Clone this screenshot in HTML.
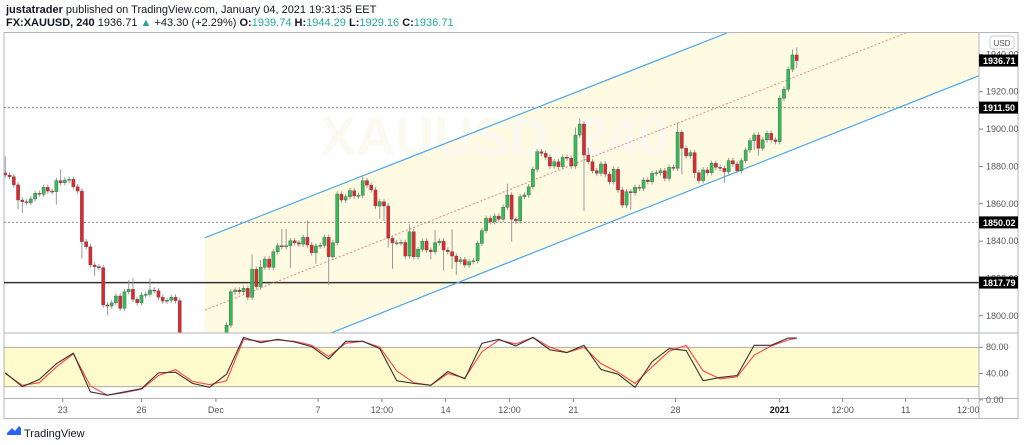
<!DOCTYPE html>
<html><head><meta charset="utf-8"><style>
body{margin:0;width:1024px;height:445px;background:#fff;overflow:hidden;font-family:"Liberation Sans",sans-serif}
svg{display:block}
</style></head><body>
<svg id="c" width="1024" height="445" viewBox="0 0 1024 445">
<defs>
<clipPath id="pc"><rect x="4" y="33" width="975" height="300"/></clipPath>
<clipPath id="sc"><rect x="4" y="334" width="975" height="64"/></clipPath>
</defs>
<text x="6" y="13" font-size="11" fill="#131722"><tspan font-weight="bold">justatrader</tspan> published on TradingView.com, January 04, 2021 19:31:35 EET</text>
<text x="6" y="26" font-size="11" fill="#131722"><tspan font-weight="bold">FX:XAUUSD, 240</tspan> 1936.71 <tspan fill="#26a69a">▲</tspan> +43.30 (+2.29%) <tspan font-weight="bold">O:</tspan><tspan fill="#26a69a">1939.74</tspan> <tspan font-weight="bold">H:</tspan><tspan fill="#26a69a">1944.29</tspan> <tspan font-weight="bold">L:</tspan><tspan fill="#26a69a">1929.16</tspan> <tspan font-weight="bold">C:</tspan><tspan fill="#26a69a">1936.71</tspan></text>
<rect x="4" y="32.5" width="1014" height="386" fill="none" stroke="#b2b5be"/>
<g clip-path="url(#pc)" id="pricePane">
<polygon points="205,237.7 727,33 979,33 979,75.7 331.7,332.7 205,332.7" fill="#fffbe3"/>
<text x="320" y="155" font-size="54" fill="#fbf9f0" font-weight="bold">XAUUSD, 240</text>
<line x1="4" x2="979" y1="107.6" y2="107.6" stroke="#888" stroke-dasharray="2,2"/>
<line x1="4" x2="979" y1="222.4" y2="222.4" stroke="#888" stroke-dasharray="2,2"/>
<line x1="4" x2="979" y1="282.6" y2="282.6" stroke="#333" stroke-width="1.5"/>
<line x1="205" y1="237.7" x2="727" y2="33" stroke="#4aa8e8" stroke-width="1.2"/>
<line x1="331.7" y1="332.7" x2="979" y2="75.7" stroke="#4aa8e8" stroke-width="1.2"/>
<line x1="205" y1="310" x2="979" y2="4" stroke="#f08080" stroke-dasharray="2,2"/>
<g id="candles"></g>
</g>
<line x1="4" x2="1018" y1="333" y2="333" stroke="#b2b5be"/>
<g clip-path="url(#sc)">
<rect x="4" y="347.3" width="975" height="39.4" fill="#fffbcc" stroke="#999" stroke-width="0.8"/>
<polyline id="dLine" fill="none" stroke="#f44" stroke-width="1.1"/>
<polyline id="kLine" fill="none" stroke="#333" stroke-width="1.1"/>
</g>
<line x1="4" x2="1018" y1="398.5" y2="398.5" stroke="#b2b5be"/>
<line x1="979" x2="979" y1="33" y2="418" stroke="#b2b5be"/>
<g id="axes" font-size="9" fill="#555"></g>
<rect x="990" y="36" width="24" height="13" rx="3" fill="#fff" stroke="#ccc"/>
<text x="1002" y="46" font-size="8" fill="#555" text-anchor="middle">USD</text>
<g id="tags"></g>
<g>
<path d="M7 433 l5 -5 l3 3 l4 -5 l2 2 v7 h-14z" fill="#2962ff"/>
<text x="24" y="437" font-size="11" fill="#131722">TradingView</text>
</g>
</svg>
<script>
const closes=[1875.4,1874.5,1870.1,1862.0,1861.1,1860.6,1862.6,1865.6,1865.1,1868.8,
1866.8,1866.5,1872.4,1871.3,1872.7,1873.1,1869.1,1866.8,1839.7,1837.0,
1827.2,1826.3,1825.8,1805.8,1805.2,1807.0,1810.6,1804.0,1812.9,1814.2,
1808.8,1807.0,1811.1,1811.5,1813.8,1813.4,1809.9,1807.9,1808.3,1809.9,
1808.1,1782,1780,1778,1776,1779,1777,1775,1778,1781,
1780,1783,1795,1812.9,1813.8,1812.9,1814.7,1809.9,1824.9,1815.6,
1826.0,1830.4,1826.0,1834.3,1837.5,1837.0,1837.5,1840.2,1839.1,1838.4,
1842.0,1837.9,1833.8,1837.4,1837.7,1842.0,1831.6,1839.1,1865.2,1862.0,
1863.8,1867.0,1864.2,1864.5,1872.4,1870.0,1867.4,1858.8,1861.1,1858.8,
1841.5,1839.1,1839.1,1839.3,1832.0,1845.0,1831.6,1835.6,1840.0,1835.2,
1834.3,1839.1,1840.0,1835.2,1834.3,1832.0,1829.0,1830.0,1827.2,1829.0,
1829.5,1838.8,1845.6,1852.2,1850.4,1853.4,1851.7,1858.1,1864.7,1851.7,
1850.8,1863.8,1864.7,1869.1,1878.5,1887.9,1887.0,1884.9,1880.2,1882.5,
1879.9,1884.9,1884.4,1880.2,1896.8,1902.7,1886.1,1882.5,1877.7,1876.3,
1881.3,1875.9,1871.8,1878.5,1867.4,1859.3,1866.5,1865.9,1868.8,1868.3,
1872.7,1871.8,1876.3,1876.6,1877.7,1873.6,1879.5,1879.0,1898.3,1889.7,
1885.6,1887.4,1876.6,1872.4,1878.1,1876.6,1881.7,1879.5,1879.0,1877.2,
1883.1,1881.3,1877.7,1883.1,1888.8,1893.8,1896.8,1889.7,1894.2,1897.7,
1894.2,1893.3,1916.5,1921.3,1932.0,1939.7,1936.71];
const firstOpen=1876.5;
const hiExt=[9,1.5,1.5,1.5,1.5,1.5,1.5,1.5,1.5,1.5,
1.5,1.5,1.5,6,1.5,1.5,1.5,1.5,1.5,1.5,
1.5,1.5,1.5,1.5,1.5,1.5,1.5,1.5,1.5,5,
6,1.5,1.5,1.5,6,1.5,1.5,1.5,1.5,1.5,
1.5,1.5,1.5,1.5,1.5,1.5,1.5,1.5,1.5,1.5,
1.5,1.5,1.5,1.5,1.5,1.5,1.5,1.5,8,1.5,
4,1.5,1.5,1.5,1.5,9,9,1.5,1.5,1.5,
1.5,9,1.5,1.5,1.5,1.5,1.5,1.5,1.5,1.5,
1.5,1.5,1.5,1.5,3,1.5,1.5,1.5,1.5,1.5,
1.5,1.5,1.5,1.5,1.5,4,1.5,1.5,1.5,1.5,
1.5,7,1.5,1.5,1.5,12,1.5,1.5,1.5,1.5,
1.5,1.5,1.5,1.5,1.5,1.5,1.5,1.5,6,1.5,
1.5,1.5,1.5,1.5,1.5,1.5,1.5,1.5,1.5,1.5,
1.5,1.5,1.5,1.5,4,3,1.5,4,1.5,1.5,
1.5,1.5,1.5,1.5,1.5,1.5,1.5,1.5,1.5,1.5,
1.5,1.5,1.5,1.5,1.5,1.5,1.5,1.5,5,1.5,
1.5,1.5,1.5,1.5,1.5,1.5,1.5,1.5,1.5,1.5,
1.5,1.5,1.5,1.5,1.5,1.5,1.5,1.5,1.5,1.5,
1.5,1.5,1.5,1.5,1.5,3,4];
const loExt=[1.5,1.5,1.5,5,6,1.5,1.5,1.5,1.5,1.5,
1.5,1.5,7,1.5,1.5,1.5,1.5,1.5,9,1.5,
1.5,5,1.5,1.5,5,1.5,1.5,1.5,1.5,1.5,
1.5,1.5,1.5,1.5,1.5,1.5,1.5,1.5,1.5,1.5,
1.5,1.5,1.5,1.5,1.5,1.5,1.5,1.5,1.5,1.5,
1.5,1.5,1.5,1.5,1.5,1.5,1.5,1.5,1.5,1.5,
1.5,1.5,1.5,1.5,1.5,1.5,1.5,12,1.5,1.5,
1.5,1.5,1.5,6,1.5,1.5,15,1.5,1.5,1.5,
1.5,1.5,1.5,1.5,1.5,1.5,1.5,1.5,7,8,
5,14,1.5,1.5,1.5,1.5,1.5,1.5,1.5,1.5,
4,1.5,1.5,11,1.5,7,7,1.5,1.5,1.5,
1.5,1.5,1.5,1.5,1.5,1.5,1.5,1.5,1.5,12,
1.5,1.5,1.5,1.5,1.5,1.5,1.5,1.5,1.5,1.5,
1.5,1.5,1.5,1.5,1.5,1.5,30,1.5,1.5,1.5,
1.5,1.5,1.5,1.5,1.5,1.5,1.5,9,1.5,1.5,
1.5,1.5,1.5,1.5,1.5,1.5,1.5,1.5,1.5,14,
1.5,1.5,3,1.5,1.5,1.5,1.5,1.5,1.5,6,
1.5,1.5,1.5,1.5,1.5,1.5,5,4,1.5,1.5,
1.5,1.5,1.5,1.5,1.5,1.5,4];
const stochK=[41,20,31,55,71,12,7,12,17,41,42,25,19,39,95,87,92,88,81,62,89,89,78,29,25,22,43,32,86,92,82,95,76,72,83,46,39,19,58,78,75,29,34,37,83,83,94,94];
const stochD=[40,22,26,50,70,21,7,11,16,37,46,28,23,29,92,89,91,89,83,66,86,89,80,44,26,22,40,33,73,91,85,95,80,72,80,55,42,25,50,74,83,44,32,35,68,82,91,94];
const priceTicks=[1940,1920,1900,1880,1860,1840,1820,1800];
const stochTicks=[80,40,0];
const timeLabels=["23","26","Dec","7","12:00","14","12:00","21","28","2021","12:00","11","12:00"];
const timeIdx=[13.5,32,49.5,73.5,88.5,103.5,118.5,133.5,157.5,182,196.8,211.6,226.3];
const tagValues=[1936.71,1911.50,1850.02,1817.79];

const NS="http://www.w3.org/2000/svg";
const xOf=i=>5.3+i*4.255;
const yP=p=>54.4+(1940-p)*1.867;
const yS=v=>399.8-v*0.657;
function mk(tag,attrs,parent){const e=document.createElementNS(NS,tag);for(const k in attrs)e.setAttribute(k,attrs[k]);parent.appendChild(e);return e;}

const cg=document.getElementById('candles');
closes.forEach((c,i)=>{
  const o=i===0?firstOpen:closes[i-1];
  const up=c>=o;
  const hi=Math.max(o,c)+hiExt[i], lo=Math.min(o,c)-loExt[i];
  const x=xOf(i);
  const g=mk('g',{},cg);
  
  
  mk('line',{x1:x,x2:x,y1:yP(hi),y2:yP(lo),stroke:'#999','stroke-width':1},g);
  const t=yP(Math.max(o,c)),b=yP(Math.min(o,c));
  mk('rect',{x:x-1.6,y:t,width:3.2,height:Math.max(1,b-t),fill:up?'#2fbf55':'#e3262b',stroke:'#555','stroke-width':0.4},g);
});

const idx=stochK.map((_,k)=>k<47?k*4:186);
document.getElementById('kLine').setAttribute('points',stochK.map((v,k)=>xOf(idx[k])+','+yS(v)).join(' '));
document.getElementById('dLine').setAttribute('points',stochD.map((v,k)=>xOf(idx[k])+','+yS(v)).join(' '));

const ax=document.getElementById('axes');
priceTicks.forEach(p=>{
  const y=yP(p);
  mk('line',{x1:979,x2:983,y1:y,y2:y,stroke:'#888'},ax);
  const t=mk('text',{x:986,y:y+3},ax);t.textContent=p.toFixed(2);
  
  
});
stochTicks.forEach(v=>{
  const y=yS(v);
  mk('line',{x1:979,x2:983,y1:y,y2:y,stroke:'#888'},ax);
  const t=mk('text',{x:986,y:y+3},ax);t.textContent=v.toFixed(2);
  
  
});
timeLabels.forEach((s,k)=>{
  const x=xOf(timeIdx[k]);
  mk('line',{x1:x,x2:x,y1:398.5,y2:402,stroke:'#888'},ax);
  const t=mk('text',{x:x,y:413,'text-anchor':'middle','font-weight':s==='2021'?'bold':'normal',fill:s==='2021'?'#131722':'#555'},ax);
  t.textContent=s;
  
  
});
const tg=document.getElementById('tags');
tagValues.forEach(v=>{
  const y=yP(v);
  const g=mk('g',{},tg);
  
  
  mk('rect',{x:979,y:y-6,width:39,height:12,fill:'#000'},g);
  const t=mk('text',{x:983,y:y+3.5,'font-size':9,fill:'#fff','font-weight':'bold'},g);
  t.textContent=v.toFixed(2);
});
</script>
</body></html>
